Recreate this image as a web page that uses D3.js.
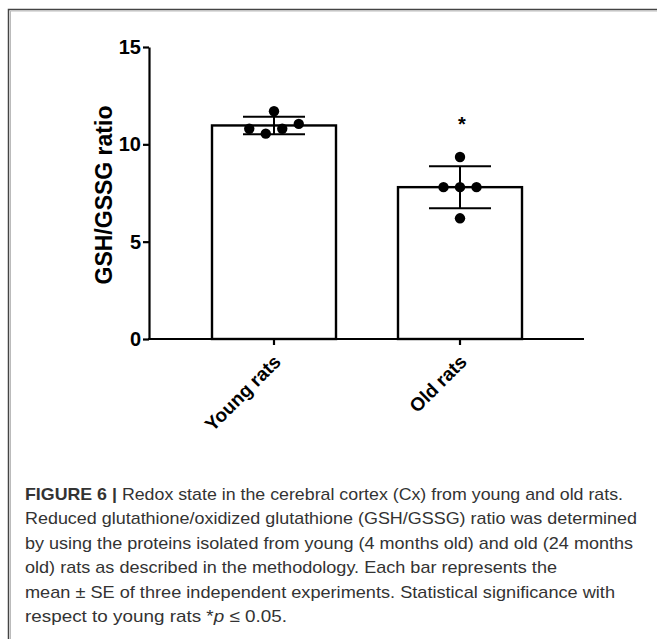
<!DOCTYPE html>
<html>
<head>
<meta charset="utf-8">
<script src="https://cdn.jsdelivr.net/npm/d3@7"></script>
<style>
  body { margin: 0; background: #fff; }
  svg { display: block; }
</style>
</head>
<body>
<div id="chart"></div>
<script>
(function () {

    // values
    const groups = ["Young rats", "Old rats"];
    const means = [10.97, 7.8];
    const errors = [0.45, 1.08];
    const youngPoints = [10.8, 10.55, 10.8, 11.05, 11.7];
    const oldPoints = [7.8, 7.8, 7.8, 9.35, 6.2];
    const yTicks = [0, 5, 10, 15];
    const yLabel = "GSH/GSSG ratio";
    const significant = [false, true];

    const captionLines = [
        "Reduced glutathione/oxidized glutathione (GSH/GSSG) ratio was determined",
        "by using the proteins isolated from young (4 months old) and old (24 months",
        "old) rats as described in the methodology. Each bar represents the",
        "mean \u00b1 SE of three independent experiments. Statistical significance with"
    ];

    const width = 657;
    const height = 639;

    const svg = d3.select("#chart")
        .append("svg")
        .attr("width", width)
        .attr("height", height);

    // frame of the figure panel
    svg.append("path")
        .attr("d", "M8.5,639 L8.5,9.5 L657,9.5")
        .attr("fill", "none")
        .attr("stroke", "#444")
        .attr("stroke-width", 1.5);
    svg.append("path")
        .attr("d", "M10.5,639 L10.5,11 L657,11")
        .attr("fill", "none")
        .attr("stroke", "#bbb")
        .attr("stroke-width", 1);

    const axisX = 149;
    const plotRight = 584;

    const y = d3.scaleLinear()
        .domain([0, 15])
        .range([339, 47]);

    const x = d3.scaleBand()
        .domain(groups)
        .range([181, 553])
        .paddingInner(1 / 3)
        .paddingOuter(1 / 6);

    const g = svg.append("g");

    // bars
    g.selectAll("rect.bar")
        .data(groups)
        .join("rect")
        .attr("class", "bar")
        .attr("x", d => x(d))
        .attr("width", x.bandwidth())
        .attr("y", (d, i) => y(means[i]))
        .attr("height", (d, i) => y(0) - y(means[i]))
        .attr("fill", "#fff")
        .attr("stroke", "#000")
        .attr("stroke-width", 2.4);

    // error bars
    const capHalf = x.bandwidth() / 4;
    groups.forEach((grp, i) => {
        const cx = x(grp) + x.bandwidth() / 2;
        const hi = y(means[i] + errors[i]);
        const lo = y(means[i] - errors[i]);
        g.append("line")
            .attr("x1", cx).attr("x2", cx)
            .attr("y1", hi).attr("y2", lo)
            .attr("stroke", "#000").attr("stroke-width", 2);
        [hi, lo].forEach(v => {
            g.append("line")
                .attr("x1", cx - capHalf).attr("x2", cx + capHalf)
                .attr("y1", v).attr("y2", v)
                .attr("stroke", "#000").attr("stroke-width", 2);
        });
    });

    // scatter points, grouped into rows of similar value and spread sideways
    function spread(values, cx) {
        const order = values.map((v, i) => i).sort((a, b) => values[a] - values[b]);
        const rows = [];
        let row = null;
        order.forEach(i => {
            if (!row || values[i] - row.start > 0.6) {
                row = { start: values[i], members: [] };
                rows.push(row);
            }
            row.members.push(i);
        });
        const out = [];
        rows.forEach(r => {
            const ids = r.members.slice().sort((a, b) => a - b);
            ids.forEach((id, k) => {
                out.push({ v: values[id], px: cx + (k - (ids.length - 1) / 2) * 16.5 });
            });
        });
        return out;
    }

    [youngPoints, oldPoints].forEach((pts, i) => {
        const cx = x(groups[i]) + x.bandwidth() / 2;
        g.selectAll(null)
            .data(spread(pts, cx))
            .join("circle")
            .attr("cx", d => d.px)
            .attr("cy", d => y(d.v))
            .attr("r", 5.2)
            .attr("fill", "#000");
    });

    // significance marks
    groups.forEach((grp, i) => {
        if (!significant[i]) return;
        g.append("text")
            .attr("x", x(grp) + x.bandwidth() / 2 + 2)
            .attr("y", y(means[i] + errors[i]) - 35)
            .attr("text-anchor", "middle")
            .attr("font-family", "Liberation Sans, Arial, sans-serif")
            .attr("font-weight", "bold")
            .attr("font-size", 20)
            .text("*");
    });

    // y axis
    const yAxis = g.append("g")
        .attr("transform", `translate(${axisX},0)`)
        .call(d3.axisLeft(y).tickValues(yTicks).tickSize(6).tickSizeOuter(0).tickPadding(2));
    yAxis.select(".domain").attr("stroke-width", 2.2);
    yAxis.selectAll(".tick line").attr("stroke-width", 2.2);
    yAxis.selectAll(".tick text")
        .attr("font-family", "Liberation Sans, Arial, sans-serif")
        .attr("font-weight", "bold")
        .attr("font-size", 20)
        .attr("fill", "#000");

    // x axis
    g.append("line")
        .attr("x1", axisX - 1).attr("x2", plotRight)
        .attr("y1", y(0)).attr("y2", y(0))
        .attr("stroke", "#000").attr("stroke-width", 2.2);

    const xAxis = g.append("g")
        .attr("transform", `translate(0,${y(0)})`)
        .call(d3.axisBottom(x).tickSize(6).tickSizeOuter(0));
    xAxis.select(".domain").remove();
    xAxis.selectAll(".tick line").attr("stroke-width", 2.2);
    xAxis.selectAll(".tick text")
        .attr("font-family", "Liberation Sans, Arial, sans-serif")
        .attr("font-weight", "bold")
        .attr("font-size", 19)
        .attr("fill", "#000")
        .attr("text-anchor", "end")
        .attr("dy", 0)
        .attr("y", 0)
        .attr("transform", "translate(8,24) rotate(-45)");

    // y label
    g.append("text")
        .attr("transform", `translate(112,${(y(0) + y(15)) / 2 + 2}) rotate(-90)`)
        .attr("text-anchor", "middle")
        .attr("font-family", "Liberation Sans, Arial, sans-serif")
        .attr("font-weight", "bold")
        .attr("font-size", 23)
        .text(yLabel);

    // caption
    const capX = 25;
    const capY0 = 500;
    const capStep = 24.4;
    const lineEnds = [623, 637, 633, 557, 615, 287];

    const cap = svg.append("g")
        .attr("font-family", "Liberation Sans, Arial, sans-serif")
        .attr("font-size", 17)
        .attr("fill", "#333");

    const first = cap.append("text").attr("x", capX).attr("y", capY0);
    first.append("tspan").attr("font-weight", "bold").text("FIGURE 6 |");
    first.append("tspan").text(" Redox state in the cerebral cortex (Cx) from young and old rats.");

    cap.selectAll("text.line")
        .data(captionLines)
        .join("text")
        .attr("class", "line")
        .attr("x", capX)
        .attr("y", (d, i) => capY0 + (i + 1) * capStep)
        .text(d => d);

    const last = cap.append("text").attr("x", capX).attr("y", capY0 + 5 * capStep);
    last.append("tspan").text("respect to young rats *");
    last.append("tspan").attr("font-style", "italic").text("p");
    last.append("tspan").text(" \u2264 0.05.");

    cap.selectAll("text")
        .attr("textLength", (d, i) => lineEnds[i] - capX)
        .attr("lengthAdjust", "spacingAndGlyphs");

})();
</script>
</body>
</html>
